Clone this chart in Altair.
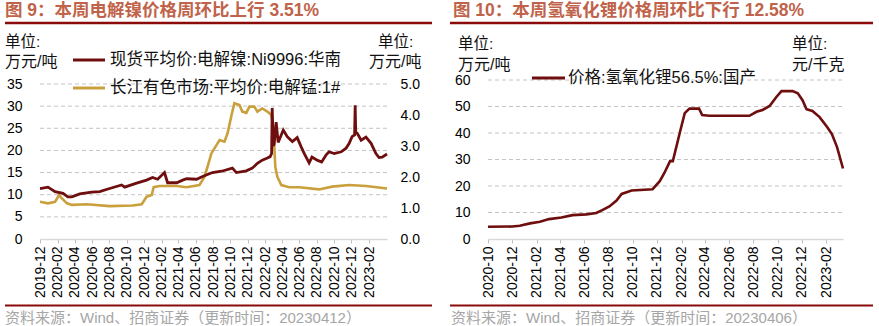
import altair as alt
import pandas as pd

# ---------------- data ----------------
ni_dates = ["2019-12-01", "2019-12-29", "2020-01-23", "2020-02-20", "2020-03-08", "2020-03-22",
            "2020-04-19", "2020-05-31", "2020-06-28", "2020-08-02", "2020-09-13", "2020-09-24",
            "2020-11-05", "2020-12-10", "2020-12-31", "2021-01-18", "2021-02-11", "2021-02-22",
            "2021-03-26", "2021-04-16", "2021-04-30", "2021-06-04", "2021-06-25", "2021-07-30",
            "2021-08-31", "2021-10-08", "2021-10-22", "2021-11-26", "2021-12-17", "2022-01-04",
            "2022-01-21", "2022-02-08", "2022-02-18", "2022-02-23", "2022-02-25", "2022-03-01",
            "2022-03-04", "2022-03-11", "2022-03-18", "2022-04-05", "2022-04-19", "2022-05-07",
            "2022-05-24", "2022-06-07", "2022-06-18", "2022-07-05", "2022-07-15", "2022-08-02",
            "2022-08-18", "2022-09-03", "2022-09-13", "2022-10-01", "2022-10-26", "2022-11-12",
            "2022-11-23", "2022-12-03", "2022-12-12", "2022-12-14", "2022-12-16", "2022-12-21",
            "2023-01-04", "2023-01-21", "2023-02-08", "2023-02-25", "2023-03-08", "2023-03-19",
            "2023-04-05"]
ni_vals = [11.4, 11.7, 10.7, 10.3, 9.5, 9.5,
           10.2, 10.6, 10.7, 11.4, 12.2, 11.7,
           12.6, 13.3, 13.9, 13.5, 15.0, 12.7,
           12.7, 13.3, 13.6, 13.5, 14.1, 15.0,
           15.3, 16.0, 15.0, 15.4, 16.0, 17.1,
           17.8, 18.3, 18.6, 19.3, 29.6, 21.0,
           21.4, 26.4, 21.8, 24.6, 23.1, 22.0,
           22.9, 20.8, 19.3, 17.2, 18.5, 17.8,
           17.4, 19.0, 19.7, 19.3, 19.7, 20.5,
           21.6, 23.1, 23.5, 30.2, 24.0, 23.9,
           22.3, 23.0, 21.6, 19.3, 18.4, 18.5,
           19.2]

mn_dates = ["2019-12-01", "2019-12-29", "2020-01-23", "2020-02-06", "2020-02-16", "2020-03-05",
            "2020-03-22", "2020-05-14", "2020-08-02", "2020-10-22", "2020-11-23", "2020-12-10",
            "2020-12-28", "2021-01-04", "2021-01-25", "2021-03-26", "2021-04-30", "2021-06-14",
            "2021-07-02", "2021-07-16", "2021-07-26", "2021-08-13", "2021-08-24", "2021-09-10",
            "2021-09-21", "2021-10-05", "2021-10-15", "2021-11-02", "2021-11-12", "2021-11-26",
            "2021-12-07", "2021-12-24", "2022-01-04", "2022-01-21", "2022-02-08", "2022-02-22",
            "2022-03-01", "2022-03-08", "2022-03-15", "2022-03-29", "2022-04-26", "2022-05-31",
            "2022-08-09", "2022-09-24", "2022-11-23", "2023-01-21", "2023-04-05"]
mn_vals = [1.20, 1.15, 1.20, 1.42, 1.31, 1.15,
           1.10, 1.12, 1.06, 1.08, 1.12, 1.36,
           1.42, 1.67, 1.71, 1.71, 1.67, 1.74,
           2.01, 2.44, 2.76, 3.03, 3.19, 3.14,
           3.41, 4.00, 4.38, 4.32, 4.11, 4.07,
           4.27, 4.27, 4.11, 4.21, 4.11, 4.00,
           3.62, 2.33, 2.01, 1.74, 1.67, 1.67,
           1.60, 1.69, 1.74, 1.71, 1.63]

li_dates = ["2020-10-01", "2020-12-01", "2020-12-20", "2021-01-15", "2021-02-09", "2021-03-04",
            "2021-04-04", "2021-05-02", "2021-06-06", "2021-07-01", "2021-07-16", "2021-08-03",
            "2021-08-21", "2021-09-03", "2021-09-28", "2021-11-20", "2021-12-08", "2021-12-20",
            "2022-01-03", "2022-01-10", "2022-01-28", "2022-02-09", "2022-02-21", "2022-03-17",
            "2022-03-25", "2022-04-12", "2022-07-22", "2022-08-09", "2022-08-24", "2022-09-11",
            "2022-09-28", "2022-10-11", "2022-11-08", "2022-11-21", "2022-12-03", "2022-12-13",
            "2022-12-28", "2023-01-15", "2023-02-03", "2023-02-15", "2023-02-28", "2023-03-15"]
li_vals = [4.6, 4.7, 5.0, 5.9, 6.5, 7.5,
           8.1, 9.0, 9.3, 9.8, 10.9, 12.3,
           14.5, 17.0, 18.3, 18.8, 21.8, 25.0,
           29.4, 29.4, 40.4, 47.5, 49.2, 49.2,
           46.8, 46.5, 46.5, 48.0, 48.7, 50.2,
           53.6, 55.8, 55.8, 55.0, 52.4, 49.0,
           48.3, 46.0, 42.3, 39.6, 34.7, 26.6]

left_x_ticks = ["2019-12", "2020-02", "2020-04", "2020-06", "2020-08", "2020-10", "2020-12",
                "2021-02", "2021-04", "2021-06", "2021-08", "2021-10", "2021-12", "2022-02",
                "2022-04", "2022-06", "2022-08", "2022-10", "2022-12", "2023-02"]
right_x_ticks = ["2020-10", "2020-12", "2021-02", "2021-04", "2021-06", "2021-08", "2021-10",
                 "2021-12", "2022-02", "2022-04", "2022-06", "2022-08", "2022-10", "2022-12",
                 "2023-02"]
ni_y_ticks = [0, 5, 10, 15, 20, 25, 30, 35]
mn_y_ticks = [0, 1, 2, 3, 4, 5]
li_y_ticks = [0, 10, 20, 30, 40, 50, 60]
left_grid = [5, 10, 15, 20, 25, 30, 35]
right_grid = [10, 20, 30, 40, 50, 60]

TITLE_L = "图 9：本周电解镍价格周环比上行 3.51%"
TITLE_R = "图 10：本周氢氧化锂价格周环比下行 12.58%"
UNIT_A = "单位:"
UNIT_WT = "万元/吨"
UNIT_KG = "元/千克"
LEG_NI = "现货平均价:电解镍:Ni9996:华南"
LEG_MN = "长江有色市场:平均价:电解锰:1#"
LEG_LI = "价格:氢氧化锂56.5%:国产"
SRC_L = "资料来源：Wind、招商证券（更新时间：20230412）"
SRC_R = "资料来源：Wind、招商证券（更新时间：20230406）"

# ---------------- styles ----------------
FONT = "Liberation Sans, Noto Sans CJK SC"
C_NI = "#6E0E0E"
C_MN = "#C9A03C"
C_TITLE = "#C0634A"
C_RED = "#8B0A0A"
C_SRC = "#A6A6A6"
C_GRID = "#C4C4C4"

W, H = 879, 326
AX_Y = 239  # pixel row of the x axes


def dt(s):
    y, m = s.split("-")
    return alt.DateTime(year=int(y), month=int(m), date=1, utc=True)


def dday(s):
    y, m, d = s.split("-")
    return alt.DateTime(year=int(y), month=int(m), date=int(d), utc=True)


def blank():
    return alt.Chart(alt.Data(values=[{}]))


def txt(s, x, y, size, color="#111111", bold=False, align="left"):
    return blank().mark_text(
        text=s, align=align, baseline="middle", fontSize=size, font=FONT,
        color=color, fontWeight="bold" if bold else "normal"
    ).encode(x=alt.value(x), y=alt.value(y))


def hrule(x1, x2, y, color, w):
    return blank().mark_rule(color=color, strokeWidth=w).encode(
        x=alt.value(x1), x2=alt.value(x2), y=alt.value(y))


def x_axis(ticks):
    return alt.Axis(
        orient="bottom", offset=AX_Y - H, values=[dt(t) for t in ticks],
        labelExpr="utcFormat(datum.value, '%Y-%m')", labelAngle=270,
        labelFlush=False, labelOverlap=False, labelBound=False,
        labelFont=FONT, labelFontSize=14, labelColor="#000000", labelPadding=3,
        domainColor="#D9D9D9", domainWidth=1.5, tickColor="#BFBFBF", tickSize=4,
        grid=False, title=None)


def y_axis(orient, offset, ticks, fmt):
    return alt.Axis(
        orient=orient, offset=offset, values=ticks, format=fmt,
        grid=False, domain=False, ticks=False, tickSize=0, labelPadding=0,
        labelFont=FONT, labelFontSize=14, labelColor="#000000",
        labelFlush=False, labelOverlap=False, title=None)


# ---------------- left panel ----------------
LX0, LX1, LY_TOP = 40, 387, 84
lx_scale = alt.Scale(type="utc", domain=[dday("2019-12-01"), dday("2023-04-05")], range=[LX0, LX1])
ni_scale = alt.Scale(domain=[0, 35], range=[AX_Y, LY_TOP], nice=False, zero=False)
mn_scale = alt.Scale(domain=[0, 5], range=[AX_Y, LY_TOP], nice=False, zero=False)

left_grid_layer = alt.Chart(pd.DataFrame({"v": left_grid})).mark_rule(
    color=C_GRID, strokeDash=[4, 3], strokeWidth=1
).encode(y=alt.Y("v:Q", scale=ni_scale, axis=None), x=alt.value(LX0), x2=alt.value(LX1))

mn_layer = alt.Chart(pd.DataFrame({"date": mn_dates, "v": mn_vals})).mark_line(
    color=C_MN, strokeWidth=2.6
).encode(
    x=alt.X("date:T", scale=lx_scale, axis=x_axis(left_x_ticks)),
    y=alt.Y("v:Q", scale=mn_scale, axis=y_axis("right", 400 - W, mn_y_ticks, ".1f")),
)

ni_layer = alt.Chart(pd.DataFrame({"date": ni_dates, "v": ni_vals})).mark_line(
    color=C_NI, strokeWidth=2.8
).encode(
    x=alt.X("date:T", scale=lx_scale, axis=None),
    y=alt.Y("v:Q", scale=ni_scale, axis=y_axis("left", -22, ni_y_ticks, "d")),
)

# ---------------- right panel ----------------
RX0, RX1, RY_TOP = 488, 843, 80
rx_scale = alt.Scale(type="utc", domain=[dday("2020-10-01"), dday("2023-03-15")], range=[RX0, RX1])
li_scale = alt.Scale(domain=[0, 60], range=[AX_Y, RY_TOP], nice=False, zero=False)

right_grid_layer = alt.Chart(pd.DataFrame({"v": right_grid})).mark_rule(
    color=C_GRID, strokeDash=[4, 3], strokeWidth=1
).encode(y=alt.Y("v:Q", scale=li_scale, axis=None), x=alt.value(RX0), x2=alt.value(RX1))

li_layer = alt.Chart(pd.DataFrame({"date": li_dates, "v": li_vals})).mark_line(
    color=C_NI, strokeWidth=2.6
).encode(
    x=alt.X("date:T", scale=rx_scale, axis=x_axis(right_x_ticks)),
    y=alt.Y("v:Q", scale=li_scale, axis=y_axis("left", -470, li_y_ticks, "d")),
)

# ---------------- decorations ----------------
deco = [
    txt(TITLE_L, 5, 11, 17.5, C_TITLE, bold=True),
    hrule(5, 432, 23, C_RED, 2.5),
    txt(UNIT_A, 5, 42, 15.5),
    txt(UNIT_WT, 5, 62, 16),
    txt(UNIT_A, 378, 42, 15.5),
    txt(UNIT_WT, 369, 62, 16),
    hrule(73, 105, 60, C_NI, 3),
    txt(LEG_NI, 110, 60, 16.5),
    hrule(73, 105, 88, C_MN, 3),
    txt(LEG_MN, 110, 88, 16.5),
    hrule(5, 432, 305.5, C_RED, 2),
    txt(SRC_L, 5, 318, 15, C_SRC),

    txt(TITLE_R, 453, 11, 17.5, C_TITLE, bold=True),
    hrule(450, 873, 23, C_RED, 2.5),
    txt(UNIT_A, 458, 44, 15.5),
    txt(UNIT_WT, 458, 65, 16),
    txt(UNIT_A, 792, 44, 15.5),
    txt(UNIT_KG, 792, 65, 16),
    hrule(532, 565, 78, C_NI, 3),
    txt(LEG_LI, 568, 78, 16.5),
    hrule(450, 873, 305.5, C_RED, 2),
    txt(SRC_R, 451, 318, 15, C_SRC),
]

chart = alt.layer(
    left_grid_layer, mn_layer, ni_layer, right_grid_layer, li_layer, *deco
).resolve_scale(
    x="independent", y="independent"
).properties(
    width=W, height=H, padding=0,
    autosize=alt.AutoSizeParams(type="none"),
    background="#FFFFFF",
).configure_view(stroke=None)

chart.save("out.html", embed_options={"renderer": "svg", "actions": False})
